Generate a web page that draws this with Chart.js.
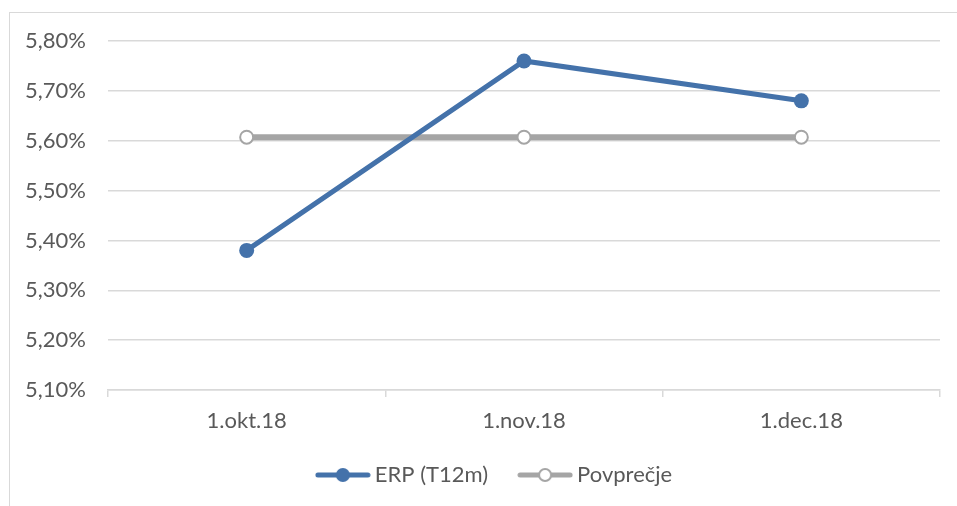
<!DOCTYPE html>
<html>
<head>
<meta charset="utf-8">
<script src="https://cdn.jsdelivr.net/npm/chart.js@4/dist/chart.umd.min.js"></script>
<style>
  html, body { margin: 0; padding: 0; background: #fff; overflow: hidden; }
  #frame {
    position: absolute; left: 9px; top: 12px;
    width: 1100px; height: 700px;
    border: 1px solid #d9d9d9;
  }
  #wrap { position: absolute; left: 0; top: 0; width: 957px; height: 506px; }
</style>
</head>
<body>
<div id="frame"></div>
<div id="wrap"><canvas id="chart"></canvas></div>
<script>
// Podatki
const categories = ['1.okt.18', '1.nov.18', '1.dec.18'];
const erpValues = [5.38, 5.76, 5.68];
const povprecjeValues = [5.607, 5.607, 5.607];
const yMin = 5.10;
const yMax = 5.80;
const yStep = 0.10;

const BLUE = '#4472aa';
const GREY = '#a5a5a5';
const GRID = '#d9d9d9';
const TEXT = '#595959';
const FONT = { family: 'Lato', size: 22 };

// Legenda: crta z oznako, narisana na majhen canvas
function legendMarker(color, filled) {
    const c = document.createElement('canvas');
    c.width = 56;
    c.height = 18;
    const g = c.getContext('2d');
    g.strokeStyle = color;
    g.lineWidth = 5;
    g.lineCap = 'round';
    g.beginPath();
    g.moveTo(3, 9);
    g.lineTo(53, 9);
    g.stroke();
    g.beginPath();
    g.arc(28, 9, filled ? 7 : 6, 0, Math.PI * 2);
    if (filled) {
        g.fillStyle = color;
        g.fill();
    } else {
        g.fillStyle = '#fff';
        g.fill();
        g.lineWidth = 2;
        g.stroke();
    }
    return c;
}

const markers = [legendMarker(BLUE, true), legendMarker(GREY, false)];

// Izvirna legenda je centrirana na sirsi okvir (desno odrezan), zato jo zamaknemo
const legendShift = {
    id: 'legendShift',
    afterLayout(chart) {
        if (chart.legend) {
            chart.legend.left += 27;
            chart.legend.right += 27;
        }
    }
};

const ctx = document.getElementById('chart').getContext('2d');
new Chart(ctx, {
    type: 'line',
    data: {
        labels: categories,
        datasets: [
            {
                label: 'ERP (T12m)',
                data: erpValues,
                borderColor: BLUE,
                backgroundColor: BLUE,
                borderWidth: 5,
                pointRadius: 7.5,
                pointBackgroundColor: BLUE,
                pointBorderColor: BLUE,
                pointBorderWidth: 0,
                tension: 0
            },
            {
                label: 'Povprečje',
                data: povprecjeValues,
                borderColor: GREY,
                backgroundColor: '#fff',
                borderWidth: 6,
                pointRadius: 6.5,
                pointBackgroundColor: '#fff',
                pointBorderColor: GREY,
                pointBorderWidth: 2,
                tension: 0
            }
        ]
    },
    options: {
        responsive: true,
        maintainAspectRatio: false,
        animation: false,
        layout: {
            padding: { left: 0, right: 17, top: 41, bottom: 10 }
        },
        plugins: {
            tooltip: { enabled: false },
            legend: {
                position: 'bottom',
                labels: {
                    usePointStyle: true,
                    pointStyleWidth: 42,
                    padding: 36,
                    color: TEXT,
                    font: FONT,
                    generateLabels: function(chart) {
                        return chart.data.datasets.map((ds, i) => ({
                            text: ds.label,
                            datasetIndex: i,
                            pointStyle: markers[i],
                            fontColor: TEXT,
                            lineWidth: 0,
                            hidden: false
                        }));
                    }
                }
            }
        },
        scales: {
            x: {
                offset: true,
                grid: {
                    offset: true,
                    drawOnChartArea: false,
                    drawTicks: true,
                    tickLength: 7,
                    color: GRID,
                    lineWidth: 1.5
                },
                border: { display: true, color: GRID, width: 1.5 },
                ticks: {
                    color: TEXT,
                    padding: 11,
                    font: FONT,
                    maxRotation: 0
                },
                afterFit: function(scale) {
                    scale.height = 38;
                }
            },
            y: {
                min: yMin,
                max: yMax,
                grid: {
                    color: GRID,
                    lineWidth: 1.5,
                    drawTicks: false
                },
                border: { display: false },
                ticks: {
                    stepSize: yStep,
                    color: TEXT,
                    padding: 22,
                    font: FONT,
                    callback: function(value) {
                        return value.toFixed(2).replace('.', ',') + '%';
                    }
                },
                afterFit: function(scale) {
                    scale.width = 108;
                }
            }
        }
    },
    plugins: [legendShift]
});
</script>
</body>
</html>
